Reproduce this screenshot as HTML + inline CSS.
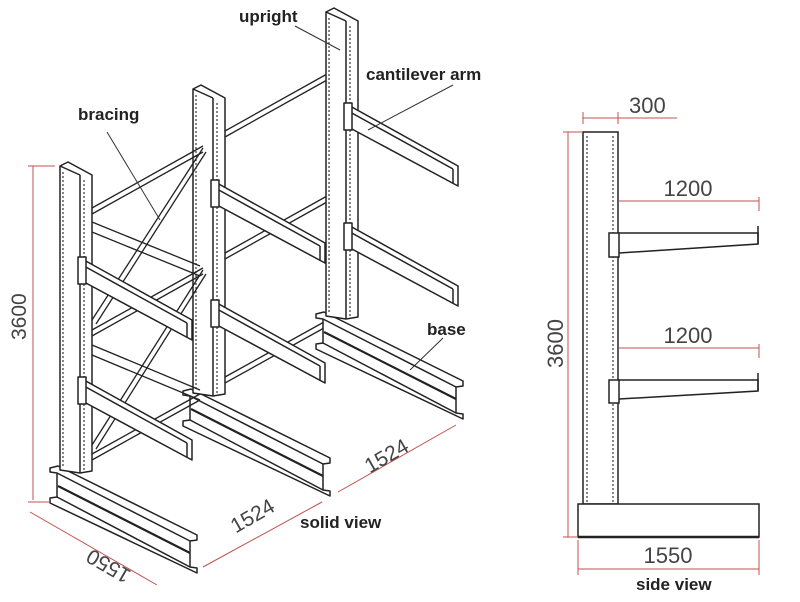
<!DOCTYPE html>
<html><head><meta charset="utf-8"><style>
html,body{margin:0;padding:0;background:#fff;}
svg{display:block;}
text{font-family:"Liberation Sans",sans-serif;}
</style></head><body>
<svg width="800" height="602" viewBox="0 0 800 602" xmlns="http://www.w3.org/2000/svg">
<defs>
<g id="struts" stroke="#222" stroke-width="1.3" fill="none">
  <line x1="92" y1="208" x2="203" y2="146"/><line x1="92" y1="214" x2="203" y2="152"/>
  <line x1="92" y1="330" x2="203" y2="268"/><line x1="92" y1="336" x2="203" y2="274"/>
  <line x1="92" y1="454" x2="200" y2="394"/><line x1="92" y1="460" x2="200" y2="400"/>
</g>
<g id="unit" fill="#fff" stroke="#222" stroke-width="1.5" stroke-linejoin="round">
  <polygon points="50,468 58,466 197,535 197,540 190,541 190,567 197,568 197,573 50,503 50,498 57,497 57,473 50,472"/>
  <line x1="57" y1="473" x2="190" y2="541"/>
  <line x1="57" y1="497" x2="190" y2="567"/>
  <line x1="58" y1="486" x2="190" y2="553" stroke-width="2.2"/>
  <polygon points="60,166 68,162 92,175 92,471 80,473 60,470"/>
  <line x1="80" y1="175" x2="80" y2="473"/>
  <line x1="60" y1="166" x2="80" y2="175"/>
  <line x1="63" y1="172" x2="63" y2="468" stroke-dasharray="2,2" stroke-width="1.1"/>
  <line x1="84" y1="180" x2="84" y2="470" stroke-dasharray="2,2" stroke-width="1.1"/>
  <g>
    <polygon points="84,260 192,320 192,340 84,282"/>
    <line x1="84" y1="266" x2="187" y2="323"/>
    <line x1="187" y1="323" x2="187" y2="337"/>
    <rect x="78" y="257" width="8" height="27"/>
  </g>
  <g>
    <polygon points="84,380 192,440 192,460 84,402"/>
    <line x1="84" y1="386" x2="187" y2="443"/>
    <line x1="187" y1="443" x2="187" y2="457"/>
    <rect x="78" y="377" width="8" height="27"/>
  </g>
</g>
</defs>

<use href="#struts" transform="translate(133,-77)"/>
<use href="#unit" transform="translate(266,-154)"/>
<use href="#unit" transform="translate(133,-77)"/>

<use href="#struts"/>
<g stroke="#222" stroke-width="1.3" fill="none">
  <line x1="203" y1="148" x2="92" y2="320"/><line x1="206" y1="152" x2="96" y2="324"/>
  <line x1="92" y1="222" x2="200" y2="266"/><line x1="92" y1="232" x2="200" y2="276"/>
  <line x1="203" y1="270" x2="92" y2="445"/><line x1="206" y1="274" x2="96" y2="449"/>
  <line x1="92" y1="345" x2="200" y2="390"/><line x1="92" y1="355" x2="200" y2="400"/>
</g>
<use href="#unit"/>

<g fill="#222" font-size="17" font-weight="bold">
  <text x="239" y="22">upright</text>
  <text x="366" y="80">cantilever arm</text>
  <text x="78" y="120">bracing</text>
  <text x="427" y="335">base</text>
  <text x="300" y="528">solid view</text>
  <text x="636" y="590">side view</text>
</g>
<g stroke="#333" stroke-width="1">
  <line x1="295" y1="26" x2="340" y2="50"/>
  <line x1="453" y1="85" x2="368" y2="130"/>
  <line x1="107" y1="132" x2="160" y2="220"/>
  <line x1="443" y1="338" x2="410" y2="370"/>
</g>

<g stroke="#c0504d" stroke-width="1" fill="none">
  <line x1="33" y1="166" x2="33" y2="500"/>
  <line x1="28" y1="166" x2="55" y2="166"/>
  <line x1="28" y1="502" x2="50" y2="502"/>
  <line x1="30" y1="512" x2="157" y2="585"/>
  <line x1="203" y1="567" x2="322" y2="502"/>
  <line x1="338" y1="492" x2="456" y2="425"/>
</g>
<g fill="#444" font-size="21">
  <text transform="translate(26,340) rotate(-90)">3600</text>
  <text transform="translate(112,560) rotate(210)" text-anchor="middle">1550</text>
  <text transform="translate(256,522) rotate(-30)" text-anchor="middle">1524</text>
  <text transform="translate(390,462) rotate(-30)" text-anchor="middle">1524</text>
</g>

<g fill="#fff" stroke="#222" stroke-width="1.5">
  <rect x="583" y="132" width="35" height="372"/>
  <line x1="587" y1="136" x2="587" y2="502" stroke-dasharray="2,2" stroke-width="1.1"/>
  <line x1="613" y1="136" x2="613" y2="502" stroke-dasharray="2,2" stroke-width="1.1"/>
  <polyline points="619,233 758,233 758,244 619,253" fill="#fff"/>
  <line x1="758" y1="226" x2="758" y2="244"/>
  <rect x="609" y="233" width="10" height="24"/>
  <polyline points="619,380 758,380 758,391 619,399" fill="#fff"/>
  <line x1="758" y1="373" x2="758" y2="391"/>
  <rect x="609" y="380" width="10" height="23"/>
  <rect x="578" y="504" width="181" height="33"/>
  <line x1="578" y1="537" x2="759" y2="537" stroke-width="2.5"/>
</g>
<g stroke="#c0504d" stroke-width="1" fill="none">
  <line x1="583" y1="118" x2="677" y2="118"/>
  <line x1="583" y1="112" x2="583" y2="124"/><line x1="618" y1="112" x2="618" y2="124"/>
  <line x1="619" y1="201" x2="759" y2="201"/><line x1="759" y1="197" x2="759" y2="211"/>
  <line x1="619" y1="348" x2="759" y2="348"/><line x1="759" y1="344" x2="759" y2="358"/>
  <line x1="568" y1="132" x2="568" y2="537"/>
  <line x1="563" y1="132" x2="583" y2="132"/><line x1="563" y1="537" x2="578" y2="537"/>
  <line x1="578" y1="569" x2="759" y2="569"/>
  <line x1="578" y1="540" x2="578" y2="575"/><line x1="759" y1="540" x2="759" y2="575"/>
</g>
<g fill="#444" font-size="22">
  <text x="629" y="113">300</text>
  <text x="688" y="196" text-anchor="middle">1200</text>
  <text x="688" y="343" text-anchor="middle">1200</text>
  <text x="668" y="563" text-anchor="middle">1550</text>
  <text transform="translate(563,368) rotate(-90)">3600</text>
</g>
</svg>
</body></html>
